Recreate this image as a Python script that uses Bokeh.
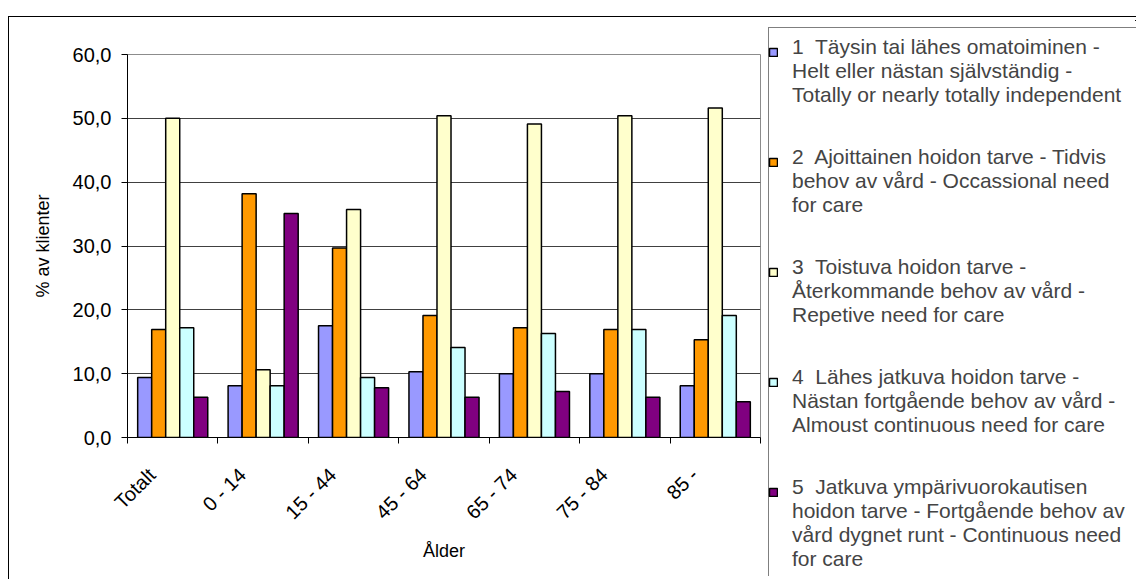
import math
from bokeh.plotting import figure
from bokeh.layouts import row
from bokeh.models import (Range1d, FixedTicker, Legend, LegendItem, ColumnDataSource)
from bokeh.embed import file_html
from bokeh.resources import INLINE

# ---- data ----
categories = ["Totalt", "0 - 14", "15 - 44", "45 - 64", "65 - 74", "75 - 84", "85 -"]
s1 = [9.4, 8.1, 17.5, 10.3, 10.0, 10.0, 8.1]
s2 = [16.9, 38.2, 29.7, 19.1, 17.2, 16.9, 15.3]
s3 = [50.0, 10.6, 35.7, 50.4, 49.1, 50.4, 51.6]
s4 = [17.2, 8.1, 9.4, 14.1, 16.3, 16.9, 19.1]
s5 = [6.3, 35.1, 7.8, 6.3, 7.2, 6.3, 5.6]
series_labels = [
    "1  Täysin tai lähes omatoiminen -\nHelt eller nästan självständig -\nTotally or nearly totally independent",
    "2  Ajoittainen hoidon tarve - Tidvis\nbehov av vård - Occassional need\nfor care",
    "3  Toistuva hoidon tarve -\nÅterkommande behov av vård -\nRepetive need for care",
    "4  Lähes jatkuva hoidon tarve -\nNästan fortgående behov av vård -\nAlmoust continuous need for care",
    "5  Jatkuva ympärivuorokautisen\nhoidon tarve - Fortgående behov av\nvård dygnet runt - Continuous need\nfor care",
]
colors = ["#9999FF", "#FF9900", "#FFFFCC", "#CCFFFF", "#800080"]
y_ticks = [0, 10, 20, 30, 40, 50, 60]
y_tick_labels = ["0,0", "10,0", "20,0", "30,0", "40,0", "50,0", "60,0"]
x_title = "Ålder"
y_title = "% av klienter"

FONT = "Liberation Sans"
series = [s1, s2, s3, s4, s5]
n = len(categories)
bar_w = 0.155
label_shift = 0.23

# ---------------- main chart ----------------
p = figure(width=752, height=562, output_backend="svg", toolbar_location=None,
           x_range=Range1d(0, n), y_range=Range1d(0, 60),
           min_border_left=118, min_border_right=1, min_border_top=37, min_border_bottom=142,
           background_fill_color="white", border_fill_color="white")
p.outline_line_color = "#8c8c8c"
p.outline_line_width = 1

sources = []
for k, vals in enumerate(series):
    xs = [i + 0.5 + (k - 2) * bar_w for i in range(n)]
    src = ColumnDataSource(dict(x=xs, top=vals))
    sources.append(src)
    p.vbar(x="x", top="top", bottom=0, width=bar_w, source=src,
           fill_color=colors[k], line_color="black", line_width=1.5)

xa = p.xaxis[0]
label_pos = [i + 0.5 - label_shift for i in range(n)]
xa.ticker = FixedTicker(ticks=label_pos, minor_ticks=list(range(n + 1)))
xa.major_label_overrides = {t: c for t, c in zip(label_pos, categories)}
xa.major_label_orientation = math.pi / 4
xa.major_tick_out = 0
xa.major_tick_in = 0
xa.minor_tick_out = 6
xa.minor_tick_in = 0
xa.minor_tick_line_color = "black"
xa.axis_line_color = "black"
xa.major_label_text_font = FONT
xa.major_label_text_font_size = "20px"
xa.major_label_text_color = "black"
xa.major_label_standoff = 28
xa.axis_label = x_title
xa.axis_label_text_font = FONT
xa.axis_label_text_font_size = "18px"
xa.axis_label_text_font_style = "normal"
xa.axis_label_text_color = "black"
xa.axis_label_standoff = 7

ya = p.yaxis[0]
ya.ticker = FixedTicker(ticks=y_ticks)
ya.major_label_overrides = {t: l for t, l in zip(y_ticks, y_tick_labels)}
ya.major_tick_out = 6
ya.major_tick_in = 0
ya.major_tick_line_color = "black"
ya.minor_tick_line_color = None
ya.axis_line_color = "black"
ya.major_label_text_font = FONT
ya.major_label_text_font_size = "20px"
ya.major_label_text_color = "black"
ya.major_label_standoff = 10
ya.axis_label = y_title
ya.axis_label_text_font = FONT
ya.axis_label_text_font_size = "18px"
ya.axis_label_text_font_style = "normal"
ya.axis_label_text_color = "black"
ya.axis_label_standoff = 17

p.xgrid.grid_line_color = None
p.ygrid.grid_line_color = "#404040"
p.ygrid.grid_line_width = 1

# ---------------- legend panel ----------------
q = figure(width=375, height=559, output_backend="svg", toolbar_location=None,
           x_range=Range1d(-2, -1), y_range=Range1d(-2, -1),
           x_axis_location=None, y_axis_location=None,
           min_border_left=0, min_border_right=0, min_border_top=3, min_border_bottom=0,
           background_fill_color="white", border_fill_color="white")
q.outline_line_color = None
q.grid.grid_line_color = None

for fig in (p, q):
    try:
        fig.frame_align = False
    except Exception:
        pass

# swatch renderers share the series data; q's ranges keep the bars out of view
swatches = []
for k, src in enumerate(sources):
    r = q.vbar(x="x", top="top", bottom=0, width=bar_w, source=src,
               fill_color=colors[k], line_color="black", line_width=1.5)
    swatches.append(r)

text_legend = Legend(items=[LegendItem(label=lab, renderers=[]) for lab in series_labels],
                     location="top_left", orientation="vertical",
                     label_text_font=FONT, label_text_font_size="21px",
                     label_text_line_height=1.14, label_standoff=6, label_width=340,
                     glyph_width=10, glyph_height=10, spacing=38, padding=7, margin=7,
                     border_line_color="black", border_line_width=1,
                     background_fill_alpha=0)
q.add_layout(text_legend, "center")

swatch_legend = Legend(items=[LegendItem(label=" ", renderers=[r]) for r in swatches],
                       location=(7, 79), orientation="vertical",
                       label_text_font=FONT, label_text_font_size="8px",
                       label_standoff=6,
                       glyph_width=10, glyph_height=10, spacing=100, padding=7, margin=0,
                       border_line_color=None, background_fill_alpha=0)
q.add_layout(swatch_legend, "center")

lay = row(p, q)
lay.margin = (17, 0, 0, 9)
lay.styles = {"outline": "1px solid black"}

open("out.html", "w").write(file_html(lay, INLINE))
